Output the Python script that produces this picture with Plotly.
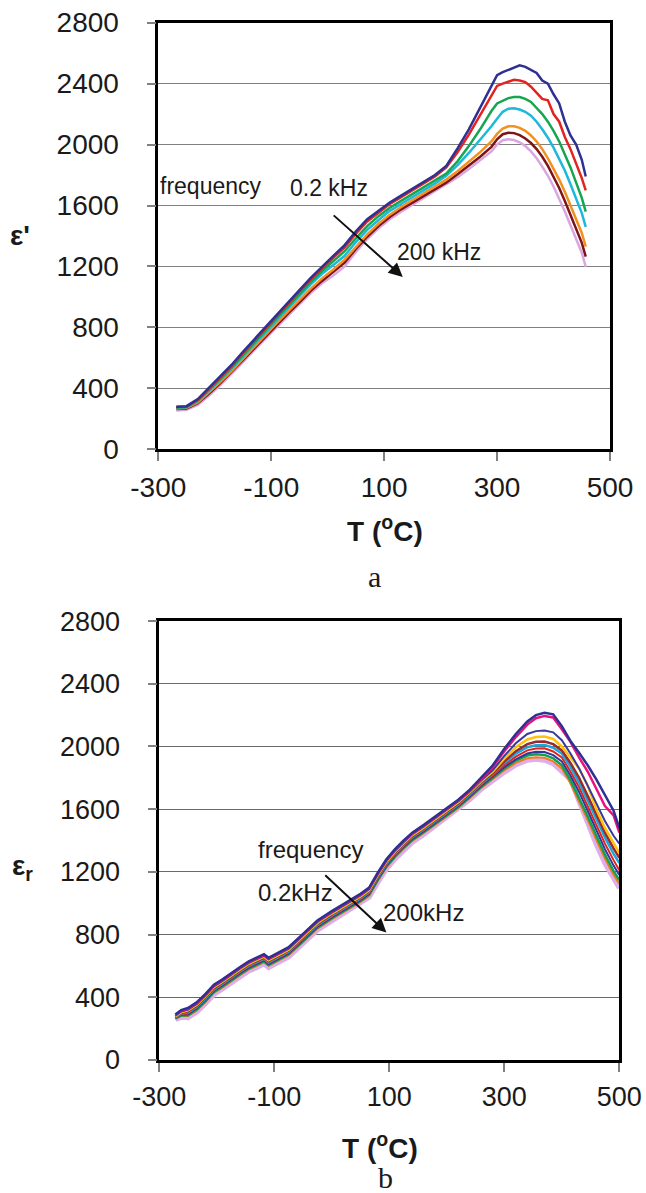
import plotly.graph_objects as go

# ---------------- Panel (a): eps' vs T ----------------
T_a = [-268, -250, -230, -210, -190, -170, -150, -130, -110, -90, -70, -50, -30, -10,
       10, 30, 50, 70, 90, 110, 130, 150, 170, 190, 210, 230, 250, 270, 290, 300,
       310, 320, 330, 340, 350, 360, 370, 380, 390, 400, 410, 420, 430, 440, 450, 457]

a_blue = [280, 283, 330, 405, 480, 555, 640, 722, 805, 885, 965, 1045, 1125, 1200,
          1270, 1340, 1430, 1510, 1565, 1620, 1665, 1710, 1750, 1800, 1860, 1975, 2100, 2240, 2380, 2455,
          2475, 2490, 2500, 2520, 2510, 2490, 2470, 2420, 2400, 2330, 2270, 2150, 2060, 2000, 1900, 1790]
a_red = [278, 280, 325, 398, 472, 548, 632, 714, 797, 877, 957, 1037, 1115, 1190,
         1258, 1325, 1415, 1495, 1555, 1610, 1655, 1700, 1740, 1790, 1850, 1950, 2065, 2190, 2320, 2385,
         2400, 2415, 2425, 2420, 2410, 2380, 2340, 2300, 2290, 2200, 2150, 2050, 1970, 1880, 1780, 1700]
a_green = [275, 278, 320, 390, 462, 538, 620, 700, 782, 862, 940, 1020, 1098, 1170,
           1235, 1300, 1385, 1465, 1530, 1585, 1630, 1675, 1715, 1760, 1810, 1890, 1990, 2100, 2220, 2270,
           2290, 2305, 2312, 2312, 2300, 2280, 2240, 2200, 2150, 2090, 2020, 1940, 1850, 1750, 1650, 1560]
a_cyan = [272, 275, 315, 383, 455, 530, 610, 690, 770, 850, 928, 1005, 1082, 1152,
          1210, 1270, 1360, 1440, 1505, 1565, 1610, 1655, 1698, 1745, 1795, 1865, 1945, 2030, 2120, 2170,
          2215, 2235, 2238, 2230, 2215, 2190, 2150, 2100, 2045, 1980, 1910, 1830, 1740, 1650, 1550, 1460]
a_orange = [268, 272, 308, 372, 442, 515, 595, 672, 752, 830, 905, 980, 1055, 1122,
            1180, 1245, 1330, 1410, 1480, 1540, 1590, 1635, 1678, 1722, 1770, 1825, 1885, 1950, 2020, 2070,
            2105, 2120, 2120, 2110, 2090, 2060, 2020, 1970, 1910, 1845, 1770, 1690, 1600, 1510, 1420, 1330]
a_brown = [265, 268, 302, 365, 435, 507, 585, 662, 740, 818, 892, 965, 1040, 1105,
           1162, 1225, 1315, 1395, 1465, 1525, 1575, 1620, 1662, 1705, 1750, 1805, 1860, 1920, 1985, 2035,
           2068, 2078, 2075, 2062, 2040, 2010, 1970, 1920, 1860, 1790, 1715, 1630, 1540, 1450, 1355, 1265]
a_pink = [255, 260, 292, 352, 422, 495, 572, 650, 727, 805, 880, 952, 1025, 1090,
          1140, 1200, 1295, 1380, 1450, 1510, 1560, 1605, 1648, 1690, 1735, 1785, 1840, 1895, 1955, 2000,
          2028, 2035, 2030, 2015, 1990, 1955, 1910, 1855, 1795, 1725, 1645, 1560, 1470, 1380, 1290, 1198]

# ---------------- Panel (b): eps_r vs T ----------------
T_b = [-272, -262, -250, -235, -220, -205, -190, -175, -160, -145, -130, -118, -110, -95, -75, -50,
       -25, 0, 25, 50, 65, 80, 95, 110, 125, 140, 160, 180, 200, 220, 240, 260, 280,
       300, 320, 340, 355, 370, 385, 400, 415, 430, 445, 460, 475, 490, 500]

b_navy1 = [290, 318, 332, 368, 420, 480, 515, 555, 592, 628, 652, 675, 652, 680, 720, 805,
           890, 950, 1005, 1060, 1100, 1195, 1280, 1345, 1400, 1450, 1500, 1555, 1605, 1660, 1725, 1800, 1880,
           1985, 2080, 2160, 2200, 2215, 2205, 2130, 2035, 1960, 1880, 1790, 1690, 1590, 1480]
b_magenta = [287, 314, 328, 364, 416, 476, 511, 551, 588, 624, 648, 671, 648, 676, 716, 801,
             886, 946, 1001, 1056, 1096, 1191, 1276, 1341, 1396, 1446, 1496, 1551, 1601, 1655, 1718, 1792, 1870,
             1970, 2060, 2140, 2180, 2195, 2185, 2110, 2030, 1930, 1840, 1730, 1620, 1560, 1450]
b_navy2 = [282, 309, 322, 358, 410, 470, 505, 545, 582, 618, 642, 665, 642, 670, 710, 795,
           880, 940, 995, 1050, 1090, 1185, 1270, 1335, 1390, 1440, 1490, 1545, 1595, 1650, 1713, 1785, 1850,
           1940, 2020, 2080, 2098, 2102, 2090, 2040, 1955, 1860, 1750, 1635, 1525, 1430, 1380]
b_yellow = [278, 304, 316, 352, 404, 464, 499, 539, 576, 612, 636, 659, 636, 664, 704, 789,
            874, 934, 989, 1044, 1084, 1179, 1264, 1329, 1384, 1434, 1484, 1539, 1589, 1644, 1707, 1778, 1840,
            1922, 1995, 2045, 2060, 2063, 2048, 2000, 1930, 1860, 1750, 1600, 1480, 1380, 1320]
b_darkred = [275, 300, 310, 346, 398, 458, 493, 533, 570, 606, 630, 653, 630, 658, 698, 783,
             868, 928, 983, 1038, 1078, 1173, 1258, 1323, 1378, 1428, 1478, 1533, 1583, 1638, 1701, 1771, 1830,
             1905, 1970, 2015, 2030, 2031, 2015, 1975, 1895, 1800, 1685, 1565, 1450, 1350, 1290]
b_cyan = [272, 296, 304, 340, 392, 452, 487, 527, 564, 600, 624, 647, 624, 652, 692, 777,
          862, 922, 977, 1032, 1072, 1167, 1252, 1317, 1372, 1422, 1472, 1527, 1577, 1632, 1695, 1764, 1825,
          1895, 1955, 1995, 2008, 2010, 1992, 1955, 1870, 1770, 1655, 1535, 1420, 1315, 1256]
b_red = [270, 292, 298, 334, 386, 446, 481, 521, 558, 594, 618, 641, 618, 646, 686, 771,
         856, 916, 971, 1026, 1066, 1161, 1246, 1311, 1366, 1416, 1466, 1521, 1571, 1626, 1689, 1757, 1815,
         1880, 1935, 1975, 1987, 1988, 1968, 1930, 1840, 1740, 1620, 1500, 1380, 1275, 1210]
b_navy3 = [268, 288, 292, 328, 380, 440, 475, 515, 552, 588, 612, 635, 612, 640, 680, 765,
           850, 910, 965, 1020, 1060, 1155, 1240, 1305, 1360, 1410, 1460, 1515, 1565, 1620, 1683, 1750, 1808,
           1868, 1918, 1955, 1966, 1965, 1945, 1905, 1815, 1710, 1590, 1465, 1345, 1240, 1180]
b_green = [266, 284, 286, 322, 374, 434, 469, 509, 546, 582, 606, 629, 606, 634, 674, 759,
           844, 904, 959, 1014, 1054, 1149, 1234, 1299, 1354, 1404, 1454, 1509, 1559, 1614, 1677, 1743, 1800,
           1860, 1910, 1942, 1950, 1946, 1925, 1880, 1785, 1675, 1555, 1430, 1310, 1205, 1148]
b_orange = [262, 280, 280, 316, 368, 428, 463, 503, 540, 576, 600, 623, 600, 628, 668, 753,
            838, 898, 953, 1008, 1048, 1143, 1228, 1293, 1348, 1398, 1448, 1503, 1553, 1608, 1671, 1736, 1793,
            1848, 1895, 1925, 1932, 1928, 1905, 1860, 1765, 1650, 1530, 1405, 1285, 1180, 1125]
b_pink = [258, 272, 270, 306, 358, 418, 453, 493, 530, 566, 590, 613, 590, 618, 658, 743,
          828, 888, 943, 998, 1038, 1133, 1218, 1283, 1338, 1388, 1438, 1493, 1543, 1598, 1661, 1728, 1785,
          1835, 1882, 1912, 1918, 1912, 1890, 1845, 1790, 1650, 1510, 1375, 1255, 1150, 1097]

x_ticks = [-300, -100, 100, 300, 500]
x_ticktext = ["-300", "-100", "100", "300", "500"]
y_ticks = [0, 400, 800, 1200, 1600, 2000, 2400, 2800]

SANS = "Liberation Sans, Arial, Helvetica, sans-serif"
SERIF = "Liberation Serif, Times New Roman, serif"

fig = go.Figure()

series_a = [
    (a_pink, "#dba6e0"), (a_brown, "#7d1517"), (a_orange, "#f39020"),
    (a_cyan, "#1db8dc"), (a_green, "#16a550"), (a_red, "#e2231f"), (a_blue, "#2e3192"),
]
for vals, col in series_a:
    fig.add_trace(go.Scatter(x=T_a, y=vals, mode="lines", line=dict(color=col, width=2.5),
                             xaxis="x", yaxis="y", showlegend=False, hoverinfo="skip"))

series_b = [
    (b_pink, "#ddaee8", 5), (b_orange, "#f47a20", 2), (b_green, "#12a052", 2.5),
    (b_navy3, "#35359a", 2), (b_red, "#e2231f", 2), (b_cyan, "#1ba6dc", 2.5),
    (b_darkred, "#992b2b", 2.5), (b_yellow, "#ffc20e", 2.5), (b_navy2, "#3a3a9e", 2),
    (b_magenta, "#e5137f", 2.5), (b_navy1, "#2e3192", 2.5),
]
for vals, col, w in series_b:
    fig.add_trace(go.Scatter(x=T_b, y=vals, mode="lines", line=dict(color=col, width=w),
                             xaxis="x2", yaxis="y2", showlegend=False, hoverinfo="skip"))

common = dict(showline=True, mirror=True, linecolor="black", linewidth=2.5,
              ticks="outside", ticklen=9, tickcolor="#808080", tickwidth=1.5,
              zeroline=False, automargin=False)

fig.update_layout(
    width=646, height=1193, margin=dict(l=0, r=0, t=0, b=0),
    plot_bgcolor="white", paper_bgcolor="white", showlegend=False,
    xaxis=dict(domain=[0.2450, 0.9443], range=[-300, 500], tickvals=x_ticks, ticktext=x_ticktext,
               showgrid=False, anchor="y", ticklabelstandoff=2,
               tickfont=dict(family=SANS, size=28, color="#1a1a1a"), **common),
    yaxis=dict(domain=[0.6234, 0.9810], range=[0, 2800], tickvals=y_ticks, showgrid=True,
               gridcolor="#808080", gridwidth=1.3, anchor="x", ticklabelstandoff=22,
               tickfont=dict(family=SANS, size=28, color="#1a1a1a"), **common),
    xaxis2=dict(domain=[0.2466, 0.9587], range=[-300, 500], tickvals=x_ticks, ticktext=x_ticktext,
                showgrid=False, anchor="y2", ticklabelstandoff=2,
                tickfont=dict(family=SANS, size=27, color="#1a1a1a"), **common),
    yaxis2=dict(domain=[0.1115, 0.4794], range=[0, 2800], tickvals=y_ticks, showgrid=True,
                gridcolor="#6a6a6a", gridwidth=1.3, anchor="x2", ticklabelstandoff=22,
                tickfont=dict(family=SANS, size=27, color="#1a1a1a"), **common),
)


def paper_label(text, px, py, font):
    return dict(text=text, x=px / 646, y=1 - py / 1193, xref="paper", yref="paper",
                xanchor="center", yanchor="middle", showarrow=False, font=font)


ftitle = dict(family=SANS, size=28, color="#1a1a1a")
fpanel = dict(family=SERIF, size=30, color="#1a1a1a")
ann = [
    paper_label("<b>T (<sup>o</sup>C)</b>", 385, 529, ftitle),
    paper_label("a", 374, 577, fpanel),
    paper_label("<b>ε'</b>", 20, 235, ftitle),
    paper_label("<b>T (<sup>o</sup>C)</b>", 380, 1146, ftitle),
    paper_label("b", 385, 1177, fpanel),
    paper_label("<b>ε<sub>r</sub></b>", 22, 867, ftitle),
]

# in-plot labels panel (a)
fa = dict(family=SANS, size=23, color="#1a1a1a")
for txt, xx, yy in [("frequency", -206, 1728), ("0.2 kHz", 3, 1718), ("200 kHz", 197, 1295)]:
    ann.append(dict(text=txt, x=xx, y=yy, xref="x", yref="y", xanchor="center", yanchor="middle",
                    showarrow=False, font=fa))
ann.append(dict(text="", x=133, y=1131, ax=8, ay=1544, xref="x", yref="y", axref="x", ayref="y",
                showarrow=True, arrowhead=2, arrowsize=1.4, arrowwidth=2, arrowcolor="#111"))

# in-plot labels panel (b)
fb = dict(family=SANS, size=24, color="#1a1a1a")
for txt, xx, yy in [("frequency", -37, 1343), ("0.2kHz", -64, 1069), ("200kHz", 160, 944)]:
    ann.append(dict(text=txt, x=xx, y=yy, xref="x2", yref="y2", xanchor="center", yanchor="middle",
                    showarrow=False, font=fb))
ann.append(dict(text="", x=95, y=813, ax=-14, ay=1187, xref="x2", yref="y2", axref="x2", ayref="y2",
                showarrow=True, arrowhead=2, arrowsize=1.4, arrowwidth=2, arrowcolor="#111"))

fig.update_layout(annotations=ann)
fig.write_html("out.html", config={"displayModeBar": False},
               post_script="document.body.style.margin='0';document.body.style.padding='0';"
                           "document.documentElement.style.overflow='hidden';")
